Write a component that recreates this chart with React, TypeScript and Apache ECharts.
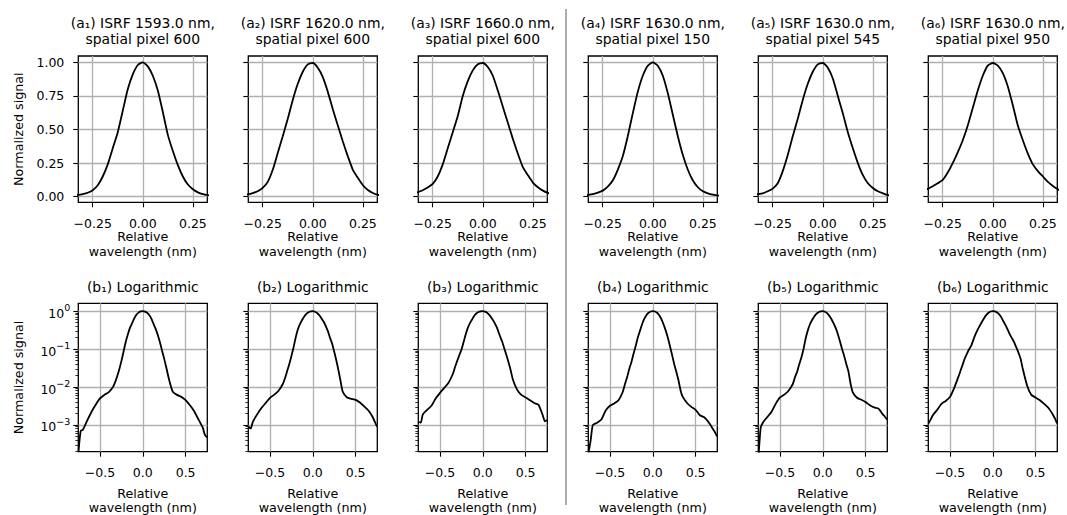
import { useEffect, useRef } from "react";
import * as echarts from "echarts";

// Relative wavelength grid (nm)
const wavelength = [
  -0.75, -0.725, -0.7, -0.65, -0.6, -0.55, -0.5, -0.45, -0.4, -0.35,
  -0.325, -0.3, -0.275, -0.25, -0.225, -0.2, -0.175, -0.15, -0.125, -0.1, -0.075, -0.05, -0.025,
  0, 0.025, 0.05, 0.075, 0.1, 0.125, 0.15, 0.175, 0.2, 0.225, 0.25, 0.275, 0.3, 0.325,
  0.35, 0.4, 0.45, 0.5, 0.55, 0.6, 0.65, 0.7, 0.725, 0.75,
];

// Normalized ISRF signal per panel column
const isrfA1 = [
  2.0e-4, 7e-4, 7.5e-4, 1.3e-3, 2.2e-3, 3.4e-3, 5.0e-3, 6.2e-3, 7.2e-3, 0.0098,
  0.013, 0.019, 0.029, 0.048, 0.085, 0.15, 0.24, 0.36, 0.48, 0.64, 0.8, 0.91, 0.98,
  1.0, 0.97, 0.9, 0.79, 0.63, 0.46, 0.34, 0.235, 0.15, 0.09, 0.055, 0.032, 0.018, 0.011,
  0.0075, 0.0062, 0.0055, 0.0045, 0.0033, 0.0023, 0.0014, 8.5e-4, 5.5e-4, 4.7e-4,
];
const isrfA2 = [
  9e-4, 8e-4, 1.2e-3, 1.9e-3, 2.8e-3, 3.8e-3, 5.2e-3, 6.3e-3, 8e-3, 0.012,
  0.017, 0.026, 0.04, 0.065, 0.11, 0.2, 0.325, 0.45, 0.58, 0.72, 0.84, 0.93, 0.985,
  0.995, 0.96, 0.89, 0.78, 0.65, 0.53, 0.41, 0.3, 0.2, 0.14, 0.085, 0.05, 0.027, 0.014,
  0.0075, 0.0053, 0.0049, 0.0046, 0.0039, 0.0031, 0.0024, 0.0016, 1.2e-3, 9e-4,
];
const isrfA3 = [
  1.2e-3, 1.15e-3, 1.9e-3, 2.5e-3, 3.2e-3, 5.0e-3, 7.0e-3, 9.5e-3, 0.013, 0.022,
  0.033, 0.048, 0.068, 0.095, 0.15, 0.24, 0.36, 0.48, 0.6, 0.75, 0.86, 0.94, 0.985,
  0.995, 0.965, 0.9, 0.79, 0.67, 0.55, 0.43, 0.32, 0.22, 0.16, 0.105, 0.07, 0.045, 0.028,
  0.016, 0.0085, 0.0062, 0.0053, 0.0045, 0.0038, 0.0034, 0.0018, 1.25e-3, 1.35e-3,
];
const isrfA4 = [
  1.9e-4, 4e-4, 1e-3, 1.15e-3, 1.4e-3, 2.4e-3, 3.2e-3, 3.7e-3, 4.5e-3, 7.5e-3,
  0.012, 0.018, 0.03, 0.045, 0.075, 0.12, 0.2, 0.3, 0.45, 0.62, 0.78, 0.9, 0.975,
  1.0, 0.975, 0.9, 0.77, 0.61, 0.45, 0.31, 0.2, 0.12, 0.07, 0.04, 0.025, 0.015, 0.008,
  0.0055, 0.0038, 0.003, 0.0025, 0.0018, 0.0016, 0.0012, 8e-4, 6.5e-4, 5e-4,
];
const isrfA5 = [
  1.5e-4, 8.5e-4, 1.15e-3, 1.6e-3, 2.2e-3, 3.6e-3, 5.3e-3, 6.3e-3, 8e-3, 0.012,
  0.018, 0.025, 0.04, 0.06, 0.1, 0.19, 0.31, 0.45, 0.58, 0.72, 0.84, 0.93, 0.985,
  0.995, 0.96, 0.88, 0.75, 0.62, 0.48, 0.36, 0.25, 0.16, 0.1, 0.065, 0.04, 0.025, 0.012,
  0.0072, 0.0052, 0.0046, 0.004, 0.0033, 0.0029, 0.0027, 0.0019, 1.65e-3, 0.0014,
];
const isrfA6 = [
  1.1e-3, 1.4e-3, 1.8e-3, 2.5e-3, 3.6e-3, 4.3e-3, 5.5e-3, 9.5e-3, 0.019, 0.04,
  0.058, 0.077, 0.1, 0.125, 0.18, 0.25, 0.33, 0.42, 0.53, 0.66, 0.79, 0.9, 0.975,
  0.995, 0.975, 0.92, 0.82, 0.68, 0.53, 0.42, 0.32, 0.24, 0.19, 0.15, 0.11, 0.08, 0.055,
  0.03, 0.011, 0.0062, 0.0053, 0.0045, 0.0036, 0.0028, 0.0019, 1.5e-3, 0.0011,
];
const columns = [isrfA1, isrfA2, isrfA3, isrfA4, isrfA5, isrfA6];

const linearTitles = [
  "(a₁) ISRF 1593.0 nm,\nspatial pixel 600",
  "(a₂) ISRF 1620.0 nm,\nspatial pixel 600",
  "(a₃) ISRF 1660.0 nm,\nspatial pixel 600",
  "(a₄) ISRF 1630.0 nm,\nspatial pixel 150",
  "(a₅) ISRF 1630.0 nm,\nspatial pixel 545",
  "(a₆) ISRF 1630.0 nm,\nspatial pixel 950",
];
const logTitles = [
  "(b₁) Logarithmic",
  "(b₂) Logarithmic",
  "(b₃) Logarithmic",
  "(b₄) Logarithmic",
  "(b₅) Logarithmic",
  "(b₆) Logarithmic",
];
const xAxisNameLines = ["Relative", "wavelength (nm)"];
const yAxisName = "Normalized signal";

const linearTicksX = [-0.25, 0, 0.25];
const linearTicksY = [0, 0.25, 0.5, 0.75, 1.0];
const logTicksX = [-0.5, 0, 0.5];
const logTicksY = [1e-3, 1e-2, 1e-1, 1];
const logTickExponents = ["−3", "−2", "−1", "0"];
const logMinorTicks = [
  2e-4, 3e-4, 4e-4, 5e-4, 6e-4, 7e-4, 8e-4, 9e-4,
  2e-3, 3e-3, 4e-3, 5e-3, 6e-3, 7e-3, 8e-3, 9e-3,
  2e-2, 3e-2, 4e-2, 5e-2, 6e-2, 7e-2, 8e-2, 9e-2,
  2e-1, 3e-1, 4e-1, 5e-1, 6e-1, 7e-1, 8e-1, 9e-1,
];

const FONT = "DejaVu Sans";
const COL_LEFT = 78.3;
const COL_STEP = 170;
const PANEL_W = 129;
const TOP_Y = 56;
const TOP_H = 146.3;
const BOT_Y = 303.3;
const BOT_H = 148.4;
const GRID_COLOR = "#b0b0b0";

const fmtNum = (v: number, d: number) => {
  const s = (Math.abs(v) < 1e-9 ? 0 : v).toFixed(d);
  return s.replace("-", "\u2212");
};

const fmtLog = (v: number) => {
  const e = Math.log10(v);
  const idx = logTicksY.findIndex((t) => Math.abs(Math.log10(t) - e) < 0.01);
  return idx >= 0 ? `{b|10}{s|${logTickExponents[idx]}}` : "";
};

function buildOption() {
  const grid: any[] = [];
  const xAxis: any[] = [];
  const yAxis: any[] = [];
  const series: any[] = [];
  const graphic: any[] = [];

  const tickStyle = { color: "#000", width: 1.1 };
  const labelBase = { fontSize: 12.5, color: "#000", fontFamily: FONT };

  for (let row = 0; row < 2; row++) {
    for (let c = 0; c < 6; c++) {
      const gi = row * 6 + c;
      const left = COL_LEFT + c * COL_STEP;
      const top = row === 0 ? TOP_Y : BOT_Y;
      const height = row === 0 ? TOP_H : BOT_H;
      grid.push({
        left,
        top,
        width: PANEL_W,
        height,
        show: true,
        borderColor: "#000",
        borderWidth: 1.3,
        backgroundColor: "rgba(0,0,0,0)",
      });
      const xTicks = row === 0 ? linearTicksX : logTicksX;
      xAxis.push({
        type: "value",
        gridIndex: gi,
        position: "bottom",
        min: row === 0 ? -0.322 : -0.753,
        max: row === 0 ? 0.322 : 0.753,
        axisLine: { show: false, onZero: false },
        axisTick: { show: true, inside: false, length: 5, lineStyle: tickStyle, customValues: xTicks },
        axisLabel: {
          ...labelBase,
          customValues: xTicks,
          margin: row === 0 ? 15 : 14,
          formatter: (v: number) => fmtNum(v, row === 0 ? 2 : 1),
        },
        splitLine: { show: true, lineStyle: { color: GRID_COLOR, width: 1.3 } },
      });
      if (row === 0) {
        yAxis.push({
          type: "value",
          gridIndex: gi,
          position: "left",
          min: -0.042,
          max: 1.047,
          axisLine: { show: false, onZero: false },
          axisTick: { show: true, inside: false, length: 5, lineStyle: tickStyle, customValues: linearTicksY },
          axisLabel: {
            ...labelBase,
            show: c === 0,
            customValues: linearTicksY,
            margin: 14,
            formatter: (v: number) => fmtNum(v, 2),
          },
          splitLine: { show: true, lineStyle: { color: GRID_COLOR, width: 1.3 } },
        });
      } else {
        yAxis.push({
          type: "log",
          logBase: 10,
          gridIndex: gi,
          position: "left",
          min: 1.98e-4,
          max: 1.6,
          axisLine: { show: false, onZero: false },
          axisTick: { show: true, inside: false, length: 5, lineStyle: tickStyle, customValues: logTicksY },
          axisLabel: {
            ...labelBase,
            show: c === 0,
            customValues: logTicksY,
            margin: 8,
            formatter: (v: number) => fmtLog(v),
            rich: {
              b: { fontSize: 12.5, fontFamily: FONT, color: "#000", lineHeight: 17, verticalAlign: "bottom" },
              s: { fontSize: 9.5, fontFamily: FONT, color: "#000", verticalAlign: "top" },
            },
          },
          splitLine: { show: true, lineStyle: { color: GRID_COLOR, width: 1.3 } },
        });
      }
      const data = wavelength.map((x, k) => [x, columns[c][k]]);
      series.push({
        type: "line",
        xAxisIndex: gi,
        yAxisIndex: gi,
        data,
        symbol: "none",
        showSymbol: false,
        clip: true,
        smooth: 0.2,
        z: 3,
        lineStyle: { color: "#000", width: 1.8 },
      });

      const cx = left + PANEL_W / 2;
      if (row === 0) {
        graphic.push({
          type: "text",
          x: cx,
          y: 30.9,
          style: {
            text: linearTitles[c],
            fontSize: 13.9,
            fontFamily: FONT,
            fill: "#000",
            align: "center",
            verticalAlign: "middle",
            lineHeight: 16.4,
          },
        });
      } else {
        graphic.push({
          type: "text",
          x: cx,
          y: 286.7,
          style: {
            text: logTitles[c],
            fontSize: 13.9,
            fontFamily: FONT,
            fill: "#000",
            align: "center",
            verticalAlign: "middle",
          },
        });
      }
      const nameY = row === 0 ? 236.8 : 493;
      xAxisNameLines.forEach((line, li) => {
        graphic.push({
          type: "text",
          x: cx,
          y: nameY + li * 14.8,
          style: {
            text: line,
            fontSize: 12.7,
            fontFamily: FONT,
            fill: "#000",
            align: "center",
            verticalAlign: "middle",
          },
        });
      });
    }
  }

  // minor log ticks (second y axis on each log grid)
  for (let c = 0; c < 6; c++) {
    const gi = 6 + c;
    yAxis.push({
      type: "log",
      logBase: 10,
      gridIndex: gi,
      position: "left",
      min: 1.98e-4,
      max: 1.6,
      axisLine: { show: false, onZero: false },
      axisTick: { show: true, inside: false, length: 3, lineStyle: { color: "#000", width: 0.8 }, customValues: logMinorTicks },
      axisLabel: { show: false },
      splitLine: { show: false },
    });
  }

  graphic.push({
    type: "text",
    x: 18.3,
    y: TOP_Y + TOP_H / 2,
    rotation: Math.PI / 2,
    style: { text: yAxisName, fontSize: 12.7, fontFamily: FONT, fill: "#000", align: "center", verticalAlign: "middle" },
  });
  graphic.push({
    type: "text",
    x: 18.3,
    y: BOT_Y + BOT_H / 2,
    rotation: Math.PI / 2,
    style: { text: yAxisName, fontSize: 12.7, fontFamily: FONT, fill: "#000", align: "center", verticalAlign: "middle" },
  });
  graphic.push({
    type: "line",
    shape: { x1: 566, y1: 9, x2: 566, y2: 505 },
    style: { stroke: "#808080", lineWidth: 1.3 },
  });

  return {
    animation: false,
    backgroundColor: "#fff",
    grid,
    xAxis,
    yAxis,
    series,
    graphic,
  };
}

export default function App() {
  const ref = useRef<HTMLDivElement>(null);
  useEffect(() => {
    if (!ref.current) return;
    const chart = echarts.init(ref.current, undefined, { renderer: "svg" });
    chart.setOption(buildOption() as any);
    return () => chart.dispose();
  }, []);
  return (
    <div
      ref={ref}
      style={{ position: "absolute", left: 0, top: 0, width: 1067, height: 515 }}
    />
  );
}
